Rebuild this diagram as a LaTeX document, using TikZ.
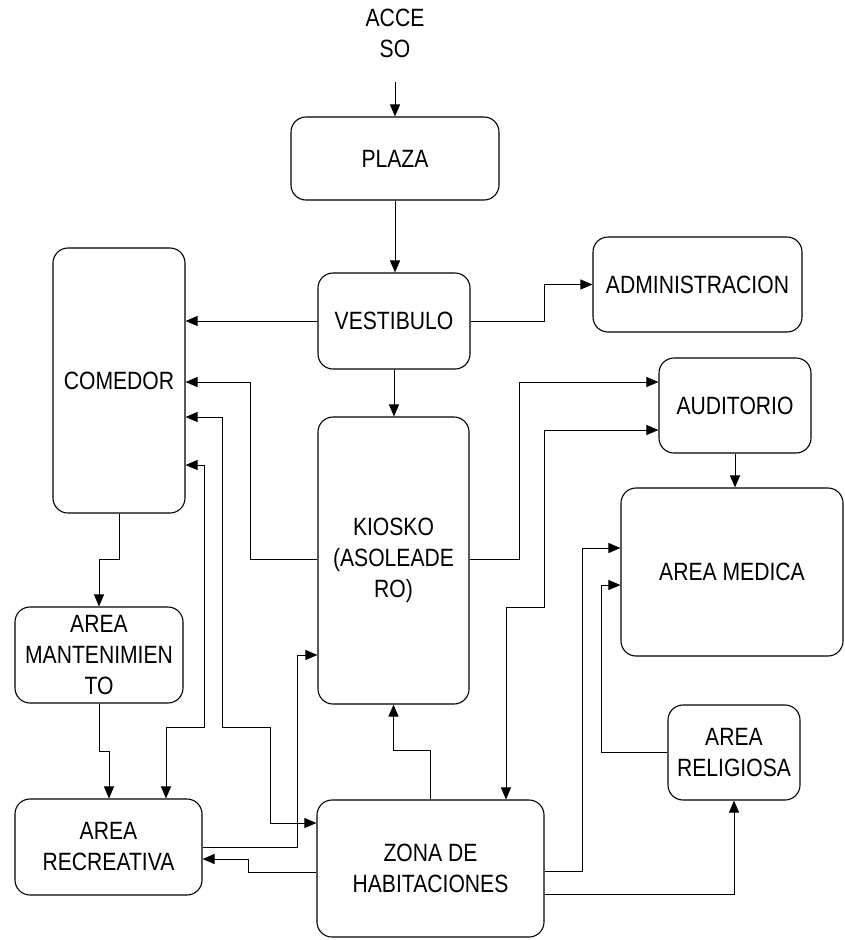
\documentclass[tikz,border=0pt]{standalone}
\usepackage{fontspec}
\setmainfont[FakeStretch=0.845]{Liberation Sans}
\usetikzlibrary{arrows.meta}

\begin{document}
\begin{tikzpicture}[x=1pt,y=-1pt,
    box/.style={draw,line width=1.1pt,rounded corners=15pt,align=center,inner sep=2pt,font=\fontsize{25}{31}\selectfont},
    arr/.style={line width=1pt,-{Triangle[length=12pt,width=10pt]}},
    darr/.style={line width=1pt,{Triangle[length=12pt,width=10pt]}-{Triangle[length=12pt,width=10pt]}}]
    \useasboundingbox (0,0) rectangle (845,940);

    \node[align=center,font=\fontsize{25}{31}\selectfont] (acceso) at (395,33) {ACCE\\SO};
    \coordinate (accin) at (395,82);
    \node[box,minimum width=208,minimum height=83] (plaza) at (395,158.5) {PLAZA};
    \node[box,minimum width=152,minimum height=96] (vest) at (394,321) {VESTIBULO};
    \node[box,minimum width=209,minimum height=95] (admin) at (697.5,284.5) {ADMINISTRACION};

    \node[box,minimum width=132,minimum height=265] (comedor) at (119,380.5) {COMEDOR};
    \node[box,minimum width=151,minimum height=287] (kiosko) at (393.5,560.5) {KIOSKO\\(ASOLEADE\\RO)};
    \node[box,minimum width=152,minimum height=95] (audit) at (735,405.5) {AUDITORIO};
    \node[box,minimum width=222,minimum height=168] (medica) at (732,572) {AREA MEDICA};

    \node[box,minimum width=168,minimum height=96] (mant) at (99,655) {AREA\\MANTENIMIEN\\TO};
    \node[box,minimum width=132,minimum height=95] (relig) at (734,752.5) {AREA\\RELIGIOSA};
    \node[box,minimum width=187,minimum height=96] (recre) at (108.5,847) {AREA\\RECREATIVA};
    \node[box,minimum width=227,minimum height=137] (zona) at (430.5,868.5) {ZONA DE\\HABITACIONES};

    \draw[arr] (accin) -- (plaza);
    \draw[arr] (plaza.south) -- (plaza.south |- vest.north);
    \draw[arr] (vest.west) -- (vest.west -| comedor.east);
    \draw[arr] (vest.east) -- ++(74,0) |- (admin.west);
    \draw[arr] (vest.south) -- (vest.south |- kiosko.north);
    \draw[arr] (kiosko.west |- 0,559) -| (250,382) -- (comedor.east |- 0,382);
    \draw[darr] (comedor.east |- 0,417) -| (222,727) -| (270,823) -- (zona.west |- 0,823);
    \draw[darr] (comedor.east |- 0,465) -| (204,727) -| (recre.north -| 166,0);
    \draw[arr] (comedor.south) -- ++(0,46) -| (mant.north);
    \draw[arr] (mant.south) -- ++(0,48) -| (recre.north -| 109,0);
    \draw[arr] (recre.east) -| (297,655) -- (kiosko.west |- 0,655);
    \draw[arr] (zona.west |- 0,872) -| (248,859) -- (recre.east |- 0,859);
    \draw[arr] (zona.north) -- ++(0,-49) -| (kiosko.south);
    \draw[arr] (kiosko.east |- 0,559) -| (519,382) -- (audit.west |- 0,382);
    \draw[darr] (audit.west |- 0,430) -| (544,607) -| (zona.north -| 506,0);
    \draw[arr] (audit.south) -- (audit.south |- medica.north);
    \draw[arr] (zona.east |- 0,871) -| (582,548) -- (medica.west |- 0,548);
    \draw[arr] (relig.west) -| (601,585) -- (medica.west |- 0,585);
    \draw[arr] (zona.east |- 0,894) -| (relig.south);
\end{tikzpicture}
\end{document}
